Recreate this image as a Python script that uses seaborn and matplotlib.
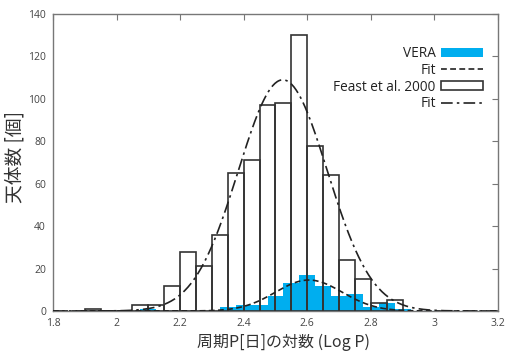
import numpy as np
import pandas as pd
import matplotlib
matplotlib.use("Agg")
import matplotlib.pyplot as plt
import seaborn as sns
from matplotlib.patches import Patch
from matplotlib.lines import Line2D

# ---- data ----
feast_left_edges = [1.90, 2.05, 2.10, 2.15, 2.20, 2.25, 2.30, 2.35, 2.40, 2.45,
                    2.50, 2.55, 2.60, 2.65, 2.70, 2.75, 2.80, 2.85]
feast_counts = [1, 3, 3, 12, 28, 21, 36, 65, 71, 97, 98, 130, 78, 64, 24, 15, 4, 5]

vera_left_edges = [2.075, 2.325, 2.375, 2.425, 2.475, 2.525, 2.575, 2.625, 2.675,
                   2.725, 2.775, 2.825, 2.875]
vera_counts = [1, 2, 3, 3, 7, 13, 17, 12, 7, 8, 2, 4, 1]

bin_width = 0.05

# Gaussian fit parameters
feast_fit_amp, feast_fit_mu, feast_fit_sigma = 109.0, 2.523, 0.14
vera_fit_amp, vera_fit_mu, vera_fit_sigma = 14.6, 2.605, 0.105

x_ticks = [1.8, 2.0, 2.2, 2.4, 2.6, 2.8, 3.0, 3.2]
x_tick_labels = ["1.8", "2", "2.2", "2.4", "2.6", "2.8", "3", "3.2"]
y_ticks = [0, 20, 40, 60, 80, 100, 120, 140]

xlabel = "周期P[日]の対数 (Log P)"
ylabel = "天体数 [個]"
legend_labels = ["VERA", "Fit", "Feast et al. 2000", "Fit"]

# ---- plotting ----
sns.set_style("white")
plt.rcParams["font.family"] = ["Noto Sans CJK JP", "DejaVu Sans"]

fig = plt.figure(figsize=(5.06, 3.52), dpi=100)
ax = fig.add_axes([0.1047, 0.1165, 0.8795, 0.8435])

vera_color = "#00aeef"
edge_gray = "#333333"

def edges_from(lefts, w):
    lo, hi = min(lefts), max(lefts) + w
    n = int(round((hi - lo) / w))
    return [lo + i * w for i in range(n + 1)]

vera_df = pd.DataFrame({"x": np.array(vera_left_edges) + bin_width / 2,
                        "w": vera_counts})
feast_df = pd.DataFrame({"x": np.array(feast_left_edges) + bin_width / 2,
                         "w": feast_counts})

# faint baseline of empty VERA bins
ax.plot([1.8, 3.2], [0, 0], color=vera_color, lw=1.0, ls=(0, (1, 2)), alpha=0.5, zorder=1)

sns.histplot(data=vera_df, x="x", weights="w",
             bins=edges_from(vera_left_edges, bin_width),
             stat="count", element="bars", fill=True,
             color=vera_color, alpha=1.0, linewidth=0, ax=ax, zorder=2)

feast_edges = edges_from(feast_left_edges, bin_width)
sns.histplot(data=feast_df, x="x", weights="w", bins=feast_edges,
             stat="count", element="bars", fill=False,
             color=edge_gray, linewidth=1.2, ax=ax, zorder=3)

xs = np.linspace(1.8, 3.2, 400)
feast_fit = feast_fit_amp * np.exp(-0.5 * ((xs - feast_fit_mu) / feast_fit_sigma) ** 2)
vera_fit = vera_fit_amp * np.exp(-0.5 * ((xs - vera_fit_mu) / vera_fit_sigma) ** 2)

sns.lineplot(x=xs, y=vera_fit, color="#222222", lw=1.2, ax=ax, zorder=4,
             linestyle=(0, (3.5, 2)))
sns.lineplot(x=xs, y=feast_fit, color="#222222", lw=1.2, ax=ax, zorder=4,
             linestyle=(0, (7, 2.5, 1.5, 2.5)))

ax.set_xlim(1.8, 3.2)
ax.set_ylim(0, 140)
ax.set_xticks(x_ticks)
ax.set_xticklabels(x_tick_labels)
ax.set_yticks(y_ticks)
ax.tick_params(axis="both", which="both", direction="in", length=4.5, width=0.8,
               color="#777777", labelcolor="#444444", labelsize=7.5,
               top=True, right=True, pad=5)
for lab in ax.get_xticklabels() + ax.get_yticklabels():
    lab.set_family(["Open Sans", "DejaVu Sans"])
for sp in ax.spines.values():
    sp.set_color("#777777")
    sp.set_linewidth(1.0)

ax.set_xlabel(xlabel, fontsize=11.5, color="#333333")
ax.set_ylabel(ylabel, fontsize=13.5, color="#333333")
ax.xaxis.set_label_coords(0.519, -0.077)
ax.yaxis.set_label_coords(-0.062, 0.52)

handles = [
    Patch(facecolor=vera_color, edgecolor=vera_color, linewidth=0),
    Line2D([0], [0], color="#222222", lw=1.2, linestyle=(0, (3.5, 2))),
    Patch(facecolor="white", edgecolor=edge_gray, linewidth=1.2),
    Line2D([0], [0], color="#222222", lw=1.2, linestyle=(0, (7, 2.5, 1.5, 2.5))),
]
leg = ax.legend(handles, legend_labels, loc="upper right",
                bbox_to_anchor=(0.978, 0.91), frameon=False, markerfirst=False,
                handlelength=3.1, handleheight=0.6, handletextpad=0.35,
                labelspacing=0.12, borderaxespad=0,
                prop={"family": ["Open Sans", "DejaVu Sans"], "size": 9.8})
for t in leg.get_texts():
    t.set_ha("right")
    t.set_color("#222222")
leg._legend_box.align = "right"
for vp in leg._legend_box.get_children()[1].get_children():
    vp.align = "right"

fig.savefig("out.png", dpi=100)
